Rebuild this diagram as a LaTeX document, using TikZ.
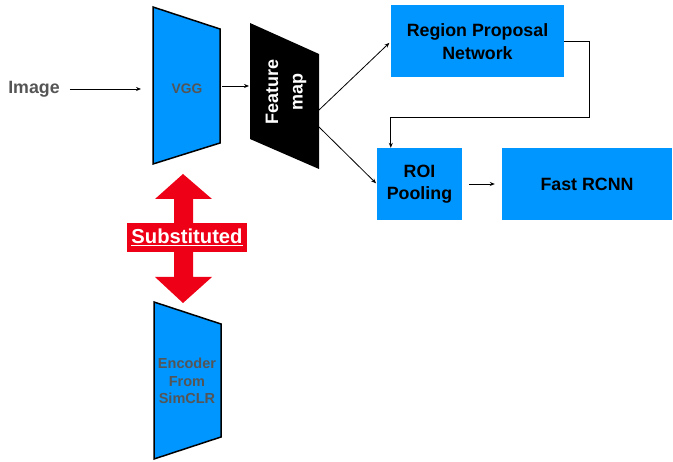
\documentclass[tikz,border=0pt]{standalone}
\usepackage{fontspec}
\setmainfont{Liberation Sans}
\usetikzlibrary{arrows.meta}

\definecolor{netblue}{RGB}{0,150,255}
\definecolor{subred}{RGB}{238,0,22}
\definecolor{labelgray}{RGB}{85,85,85}

\tikzset{
  block/.style={fill=netblue, minimum height=72pt, inner sep=0pt, align=center,
    font=\fontsize{17.8}{22.5}\selectfont\bfseries},
  trap/.style={draw=black, line width=1.5pt, line join=miter},
  graylabel/.style={text=labelgray, align=center, inner sep=0pt},
  arr/.style={-{Stealth[length=5pt,width=4pt]}, line width=0.8pt}
}

\begin{document}
\begin{tikzpicture}[x=1pt, y=-1pt]
	\useasboundingbox (0,0) rectangle (673,462);
	% backbone and feature map
	\draw[trap, fill=netblue] (153,7) -- (220,29) -- (220,143) -- (153,164) -- cycle;
		\node[graylabel, font=\fontsize{13.8}{16}\selectfont\bfseries] (vgg) at (187,89) {VGG};
	\fill[black] (250,23) -- (319,54) -- (319,169) -- (250,139) -- cycle;
		\node[rotate=90, text=white, align=center, inner sep=0pt, font=\fontsize{18}{24.5}\selectfont\bfseries] (fmap) at (286,92) {Feature\\map};
	\draw[trap, fill=netblue] (154,302) -- (221,324) -- (221,437) -- (154,459) -- cycle;
		\node[graylabel, font=\fontsize{14.5}{17.5}\selectfont\bfseries] (enc) at (187,381) {Encoder\\From\\SimCLR};
	\node[graylabel, font=\fontsize{17.8}{20}\selectfont\bfseries] (img) at (34,89) {Image};
	% detection head
	\node[block, minimum width=173pt] (rpn) at (477.5,41.5) {Region Proposal\\Network};
	\node[block, minimum width=85pt] (roi) at (419.5,184) {ROI\\Pooling};
	\node[block, minimum width=170pt] (frcnn) at (587,184) {Fast RCNN};
	% substitution
	\fill[subred] (183,174) -- (212,199) -- (193,199) -- (193,277) -- (212,277) -- (183,303)
		-- (155,277) -- (174,277) -- (174,199) -- (155,199) -- cycle;
	\node[fill=subred, text=white, minimum width=120pt, minimum height=29pt, inner sep=0pt,
		font=\fontsize{20.2}{22}\selectfont\bfseries] (subst) at (187,237.5) {\underline{Substituted}};
	% connectors
	\coordinate (vggW) at (153,89);
	\coordinate (vggE) at (220,86);
	\coordinate (fmW) at (250,86);
	\coordinate (fmE1) at (319,110);
	\coordinate (fmE2) at (319,127);
	\coordinate (rpnR) at (589,117);
	\draw[arr, shorten <=10pt, shorten >=12pt] (img.east) -- (vggW);
	\draw[arr, shorten <=2pt, shorten >=1pt] (vggE) -- (fmW);
	\draw[arr, shorten >=2pt] (fmE1) -- (rpn.west);
	\draw[arr, shorten >=1pt] (fmE2) -- (roi.west);
	\draw[arr] (rpn.east) -| (rpnR) -| ([xshift=14pt]roi.north west);
	\draw[arr, shorten <=7pt, shorten >=7pt] (roi.east) -- (frcnn.west);
\end{tikzpicture}
\end{document}
